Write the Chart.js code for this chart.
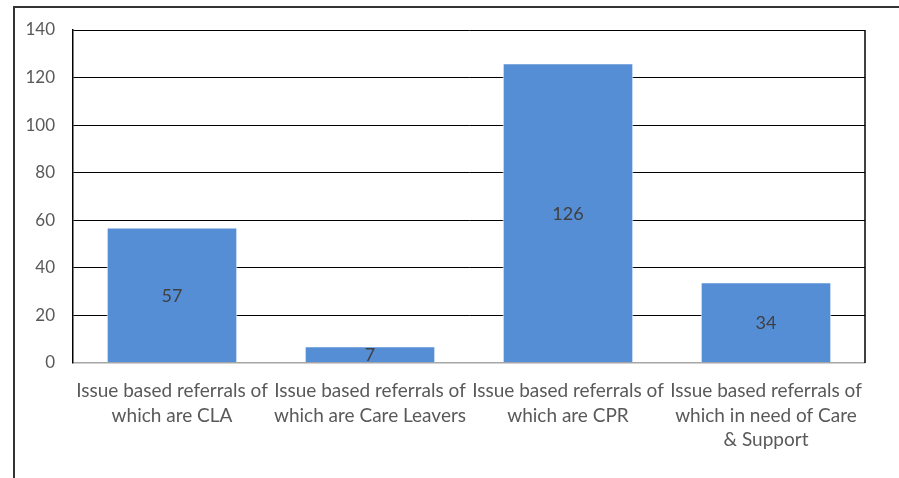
<!DOCTYPE html>
<html>
<head>
<meta charset="utf-8">
<script src="https://cdn.jsdelivr.net/npm/chart.js@4.4.1/dist/chart.umd.min.js"></script>
<style>
html,body{margin:0;padding:0;background:#fff;}
#wrap{width:899px;height:478px;position:relative;}
</style>
</head>
<body>
<div id="wrap"><canvas id="c" width="899" height="478"></canvas></div>
<script>
const categories = [
  ["Issue based referrals of", "which are CLA"],
  ["Issue based referrals of", "which are Care Leavers"],
  ["Issue based referrals of", "which are CPR"],
  ["Issue based referrals of", "which in need of Care", "& Support"]
];
const values = [57, 7, 126, 34];
const yTicks = [0, 20, 40, 60, 80, 100, 120, 140];

const FONT = "Lato";
const TEXT = "#595959";

const framePlugin = {
  id: 'frame',
  beforeDraw(chart) {
    const ctx = chart.ctx;
    ctx.save();
    ctx.fillStyle = '#fff';
    ctx.fillRect(0, 0, chart.width, chart.height);
    ctx.strokeStyle = '#333';
    ctx.lineWidth = 2;
    ctx.beginPath();
    ctx.moveTo(14, chart.height);
    ctx.lineTo(14, 7);
    ctx.lineTo(chart.width, 7);
    ctx.stroke();
    ctx.restore();
  },
  beforeDatasetsDraw(chart) {
    const a = chart.chartArea, ctx = chart.ctx;
    ctx.save();
    ctx.strokeStyle = '#000';
    ctx.lineWidth = 1.5;
    ctx.beginPath();
    ctx.moveTo(a.right, a.bottom);
    ctx.lineTo(a.right, a.top);
    ctx.stroke();
    ctx.restore();
  },
  afterDatasetsDraw(chart) {
    const ctx = chart.ctx;
    const meta = chart.getDatasetMeta(0);
    ctx.save();
    ctx.fillStyle = '#404040';
    ctx.font = '18px ' + FONT;
    ctx.textAlign = 'center';
    ctx.textBaseline = 'middle';
    meta.data.forEach((bar, i) => {
      const y = (bar.y + bar.base) / 2;
      ctx.fillText(String(values[i]), bar.x, y + 1);
    });
    ctx.restore();
  }
};

new Chart(document.getElementById('c'), {
  type: 'bar',
  data: {
    labels: categories,
    datasets: [{
      data: values,
      backgroundColor: '#558ED5',
      borderColor: '#ffffff',
      borderWidth: 1,
      borderSkipped: 'bottom',
      categoryPercentage: 1,
      barPercentage: 0.66
    }]
  },
  options: {
    responsive: false,
    animation: false,
    layout: { padding: { left: 0, top: 30, right: 34, bottom: 0 } },
    plugins: { legend: { display: false }, tooltip: { enabled: false } },
    scales: {
      x: {
        grid: { display: false, drawTicks: false },
        border: { display: false },
        ticks: { color: TEXT, font: { family: FONT, size: 19, lineHeight: 1.29 }, padding: 16, maxRotation: 0, autoSkip: false },
        afterFit(s) { s.height = 115; }
      },
      y: {
        min: 0, max: 140,
        afterBuildTicks(s) { s.ticks = yTicks.map(v => ({ value: v })); },
        grid: {
          drawTicks: false,
          color: c => (c.tick && c.tick.value === 0) ? '#A6A6A6' : '#000000',
          lineWidth: c => (c.tick && c.tick.value === 0) ? 1.5 : 1
        },
        border: { display: true, color: '#000', width: 1.5 },
        ticks: { color: TEXT, font: { family: FONT, size: 17 }, padding: 18 },
        afterFit(s) { s.width = 73; }
      }
    }
  },
  plugins: [framePlugin]
});
</script>
</body>
</html>
